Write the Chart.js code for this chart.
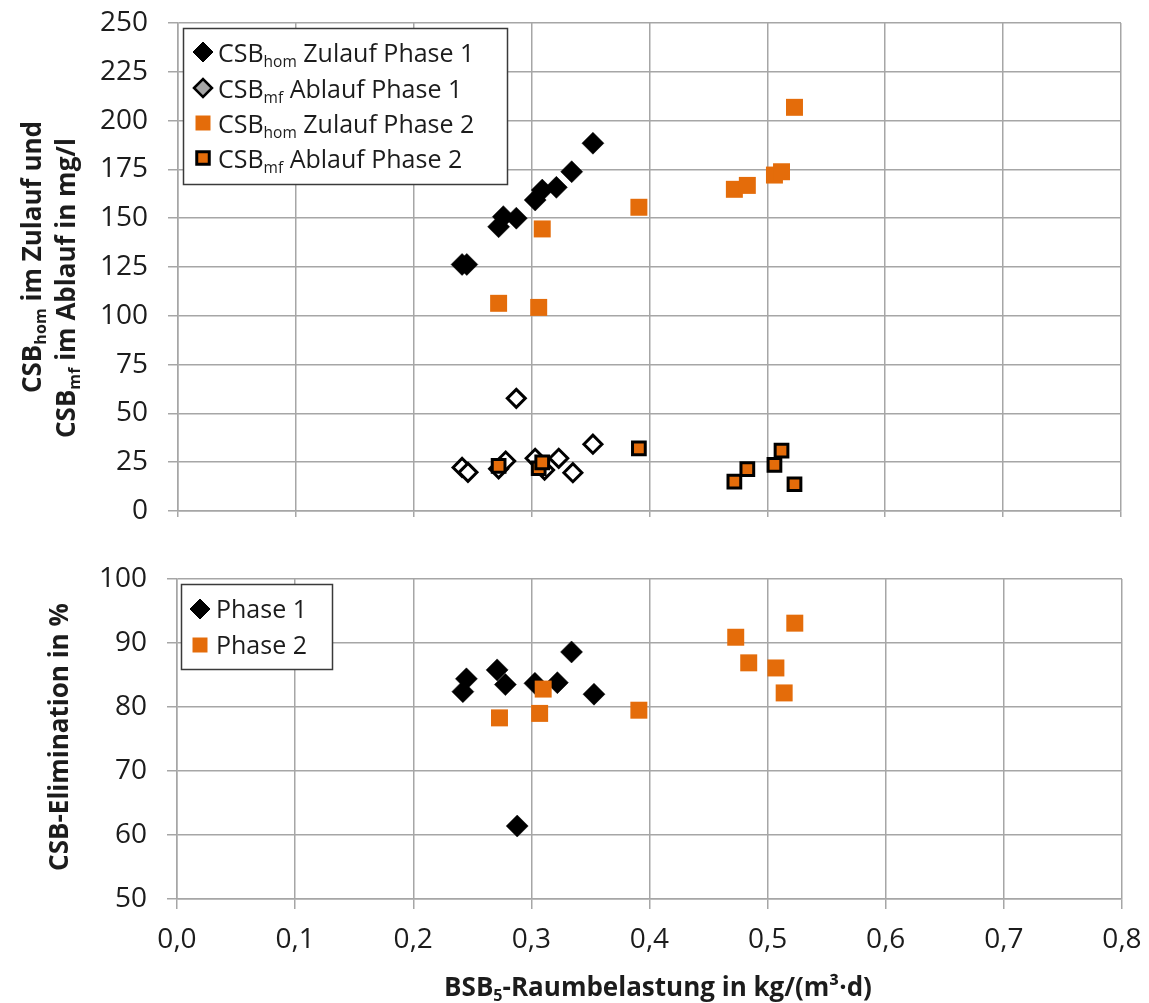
<!DOCTYPE html>
<html><head><meta charset="utf-8">
<script src="https://cdn.jsdelivr.net/npm/chart.js@4.4.1/dist/chart.umd.min.js"></script>
<style>
html,body{margin:0;padding:0;background:#fff;}
#wrap{position:relative;width:1149px;height:1003px;overflow:hidden;}
canvas{position:absolute;left:0;}
</style></head><body>
<div id="wrap">
<canvas id="c1" width="1149" height="540" style="top:0"></canvas>
<canvas id="c2" width="1149" height="463" style="top:540px"></canvas>
</div>
<script>
// ---------- data ----------
const xTickLabels = ['0,0','0,1','0,2','0,3','0,4','0,5','0,6','0,7','0,8'];
const topYTicks = [0,25,50,75,100,125,150,175,200,225,250];
const botYTicks = [50,60,70,80,90,100];

// top panel: CSB in Zulauf / Ablauf (mg/l) vs BSB5-Raumbelastung
const p1ZulaufX = [0.241, 0.245, 0.272, 0.276, 0.287, 0.303, 0.309, 0.321, 0.334, 0.352];
const p1ZulaufY = [126.3, 126.3, 145.6, 150.8, 150.0, 159.3, 164.4, 165.8, 173.8, 188.4];
const p1AblaufX = [0.241, 0.246, 0.272, 0.278, 0.287, 0.303, 0.311, 0.323, 0.335, 0.352];
const p1AblaufY = [22.3, 19.8, 21.6, 25.6, 57.7, 27.0, 21.0, 27.0, 19.6, 34.2];
const p2X       = [0.272, 0.306, 0.309, 0.391, 0.472, 0.483, 0.506, 0.512, 0.523];
const p2ZulaufY = [106.4, 104.3, 144.5, 155.6, 164.8, 166.8, 172.1, 173.8, 206.8];
const p2AblaufY = [23.1, 21.9, 24.9, 32.1, 15.0, 21.5, 23.6, 30.9, 13.7];

// bottom panel: CSB-Elimination (%)
const p1ElimX = [0.242, 0.245, 0.271, 0.278, 0.288, 0.303, 0.322, 0.334, 0.353];
const p1ElimY = [82.4, 84.4, 85.8, 83.5, 61.4, 83.7, 83.8, 88.6, 82.0];
const p2ElimX = [0.273, 0.307, 0.310, 0.391, 0.473, 0.484, 0.507, 0.514, 0.523];
const p2ElimY = [78.3, 79.0, 82.8, 79.5, 90.9, 86.9, 86.1, 82.2, 93.1];

// ---------- styling ----------
const ORANGE = '#E46C0A';
const GRID = '#A6A6A6';
const TXT = '#1c1c1c';
const FONT = '"Open Sans", "Liberation Sans", sans-serif';

const zip = (xs, ys) => xs.map((x, i) => ({x: x, y: ys[i]}));

function richWidth(ctx, parts, size, bold) {
  let w = 0;
  for (const [t, sub] of parts) {
    ctx.font = (bold ? 'bold ' : '') + (sub ? size * 0.62 : size) + 'px ' + FONT;
    w += ctx.measureText(t).width;
  }
  return w;
}
function drawRich(ctx, parts, x, y, size, bold, center) {
  const w = richWidth(ctx, parts, size, bold);
  let cx = center ? x - w / 2 : x;
  ctx.textAlign = 'left';
  ctx.textBaseline = 'alphabetic';
  ctx.fillStyle = TXT;
  for (const [t, sub] of parts) {
    ctx.font = (bold ? 'bold ' : '') + (sub ? size * 0.62 : size) + 'px ' + FONT;
    ctx.fillText(t, cx, sub ? y + size * 0.2 : y);
    cx += ctx.measureText(t).width;
  }
}
function diamond(ctx, cx, cy, r, fill, stroke, lw) {
  ctx.beginPath();
  ctx.moveTo(cx - r, cy); ctx.lineTo(cx, cy - r); ctx.lineTo(cx + r, cy); ctx.lineTo(cx, cy + r);
  ctx.closePath();
  ctx.fillStyle = fill; ctx.fill();
  if (stroke) { ctx.strokeStyle = stroke; ctx.lineWidth = lw; ctx.stroke(); }
}
function square(ctx, cx, cy, s, fill, stroke, lw) {
  ctx.beginPath();
  ctx.rect(cx - s / 2, cy - s / 2, s, s);
  ctx.fillStyle = fill; ctx.fill();
  if (stroke) { ctx.strokeStyle = stroke; ctx.lineWidth = lw; ctx.stroke(); }
}

const topDecor = {
  id: 'topDecor',
  afterDraw(chart) {
    const ctx = chart.ctx;
    ctx.save();
    // legend
    ctx.fillStyle = '#fff';
    ctx.fillRect(183, 28, 325, 157);
    ctx.strokeStyle = '#3a3a3a'; ctx.lineWidth = 1.5;
    ctx.strokeRect(183.5, 28.5, 324, 156);
    const mx = 203, tx = 218, fs = 25;
    diamond(ctx, mx, 52, 10, '#000', '#000', 1);
    drawRich(ctx, [['CSB'], ['hom', 1], [' Zulauf Phase 1']], tx, 62, fs, false, false);
    diamond(ctx, mx, 88, 9, '#A6A6A6', '#000', 2.5);
    drawRich(ctx, [['CSB'], ['mf', 1], [' Ablauf Phase 1']], tx, 98, fs, false, false);
    square(ctx, mx, 123, 15, ORANGE);
    drawRich(ctx, [['CSB'], ['hom', 1], [' Zulauf Phase 2']], tx, 133, fs, false, false);
    square(ctx, mx, 158, 12.5, ORANGE, '#000', 3);
    drawRich(ctx, [['CSB'], ['mf', 1], [' Ablauf Phase 2']], tx, 168, fs, false, false);
    // y-axis title (two lines, rotated)
    ctx.save(); ctx.translate(41, 257); ctx.rotate(-Math.PI / 2);
    drawRich(ctx, [['CSB'], ['hom', 1], [' im Zulauf und']], 0, 0, 26, true, true);
    ctx.restore();
    ctx.save(); ctx.translate(75, 288); ctx.rotate(-Math.PI / 2);
    drawRich(ctx, [['CSB'], ['mf', 1], [' im Ablauf in mg/l']], 0, 0, 26, true, true);
    ctx.restore();
    ctx.restore();
  }
};

const botDecor = {
  id: 'botDecor',
  afterDraw(chart) {
    const ctx = chart.ctx;
    ctx.save();
    // legend (page y - 540)
    ctx.fillStyle = '#fff';
    ctx.fillRect(181, 44, 152, 86);
    ctx.strokeStyle = '#3a3a3a'; ctx.lineWidth = 1.5;
    ctx.strokeRect(181.5, 44.5, 151, 85);
    diamond(ctx, 200, 69, 10, '#000', '#000', 1);
    drawRich(ctx, [['Phase 1']], 216, 78, 25, false, false);
    square(ctx, 200, 105, 15, ORANGE);
    drawRich(ctx, [['Phase 2']], 216, 114, 25, false, false);
    // y title
    ctx.save(); ctx.translate(68, 197); ctx.rotate(-Math.PI / 2);
    drawRich(ctx, [['CSB-Elimination in %']], 0, 0, 26, true, true);
    ctx.restore();
    // x title
    drawRich(ctx, [['BSB'], ['5', 1], ['-Raumbelastung in kg/(m³·d)']], 658, 456, 26, true, true);
    ctx.restore();
  }
};

Chart.defaults.font.family = FONT;
Chart.defaults.color = TXT;

const xCommon = (showLabels, tickLen) => ({
  type: 'linear', min: 0, max: 0.8,
  ticks: {
    display: showLabels, stepSize: 0.1, padding: 14,
    font: {size: 28}, color: TXT,
    callback: (v, i) => xTickLabels[i]
  },
  grid: {color: GRID, lineWidth: 1.5, tickLength: tickLen, tickColor: GRID},
  border: {color: GRID, width: 1.5}
});

new Chart(document.getElementById('c1'), {
  type: 'scatter',
  data: {
    datasets: [
      {data: zip(p1ZulaufX, p1ZulaufY), pointStyle: 'rectRot', pointRadius: 11, backgroundColor: '#000', borderColor: '#000', borderWidth: 0.5, order: 4},
      {data: zip(p1AblaufX, p1AblaufY), pointStyle: 'rectRot', pointRadius: 9, backgroundColor: '#fff', borderColor: '#000', borderWidth: 3, order: 3},
      {data: zip(p2X, p2ZulaufY), pointStyle: 'rect', pointRadius: 12, backgroundColor: ORANGE, borderColor: ORANGE, borderWidth: 0, order: 2},
      {data: zip(p2X, p2AblaufY), pointStyle: 'rect', pointRadius: 9, backgroundColor: ORANGE, borderColor: '#000', borderWidth: 3, order: 1}
    ]
  },
  options: {
    responsive: false, animation: false, devicePixelRatio: 1,
    layout: {padding: {top: 23, right: 28, left: 0, bottom: 0}},
    plugins: {legend: {display: false}, tooltip: {enabled: false}},
    events: [],
    scales: {
      x: Object.assign(xCommon(false, 6), {afterFit: s => { s.height = 29; s.paddingLeft = 0; s.paddingRight = 0; }}),
      y: {
        type: 'linear', min: 0, max: 250,
        afterBuildTicks: s => { s.ticks = topYTicks.map(v => ({value: v})); },
        ticks: {padding: 20, font: {size: 28}, color: TXT, callback: v => String(v)},
        grid: {color: GRID, lineWidth: 1.5, tickLength: 10, tickColor: GRID},
        border: {color: GRID, width: 1.5},
        afterFit: s => { s.width = 178; s.paddingTop = 0; s.paddingBottom = 0; }
      }
    }
  },
  plugins: [topDecor]
});

new Chart(document.getElementById('c2'), {
  type: 'scatter',
  data: {
    datasets: [
      {data: zip(p1ElimX, p1ElimY), pointStyle: 'rectRot', pointRadius: 11, backgroundColor: '#000', borderColor: '#000', borderWidth: 0.5, order: 2},
      {data: zip(p2ElimX, p2ElimY), pointStyle: 'rect', pointRadius: 12, backgroundColor: ORANGE, borderColor: ORANGE, borderWidth: 0, order: 1}
    ]
  },
  options: {
    responsive: false, animation: false, devicePixelRatio: 1,
    layout: {padding: {top: 39, right: 27, left: 0, bottom: 0}},
    plugins: {legend: {display: false}, tooltip: {enabled: false}},
    events: [],
    scales: {
      x: Object.assign(xCommon(true, 10), {afterFit: s => { s.height = 104; s.paddingLeft = 0; s.paddingRight = 0; }}),
      y: {
        type: 'linear', min: 50, max: 100,
        afterBuildTicks: s => { s.ticks = botYTicks.map(v => ({value: v})); },
        ticks: {padding: 20, font: {size: 28}, color: TXT, callback: v => String(v)},
        grid: {color: GRID, lineWidth: 1.5, tickLength: 10, tickColor: GRID},
        border: {color: GRID, width: 1.5},
        afterFit: s => { s.width = 177; s.paddingTop = 0; s.paddingBottom = 0; }
      }
    }
  },
  plugins: [botDecor]
});
</script>
</body></html>
